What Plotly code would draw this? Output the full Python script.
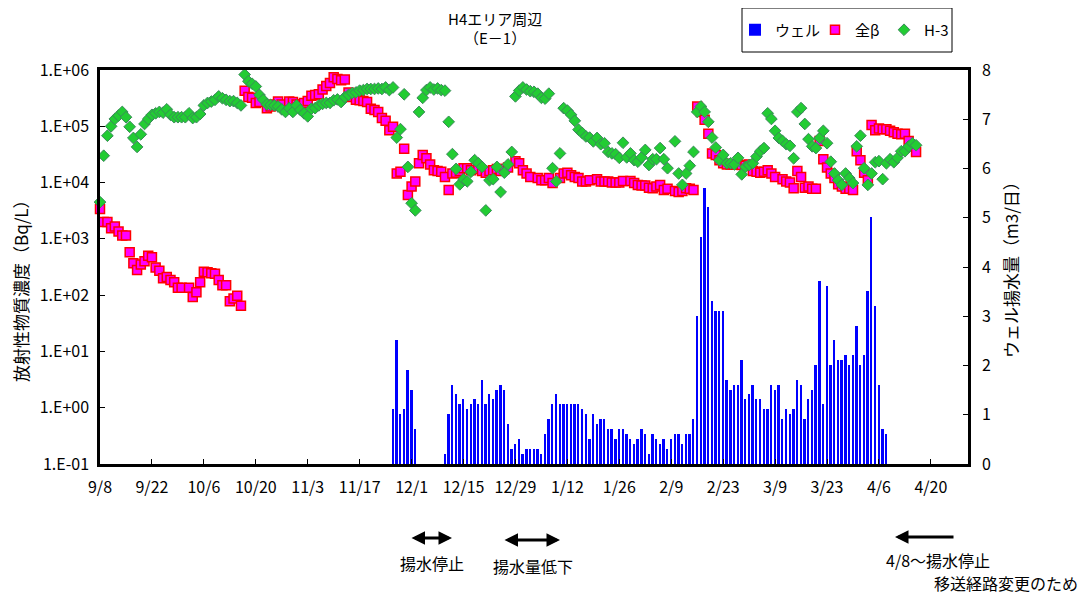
import pandas as pd
import plotly.graph_objects as go

BASE = pd.Timestamp("2013-09-08")

# ---- H-3 (Bq/L): day offset from 2013-09-08, value ----
h3_days = list(range(0, 154)) + list(range(155, 221))
h3_vals = [
    4.5e3, 3.0e4, 6.8e4, 1.0e5, 1.35e5, 1.55e5, 1.8e5, 1.45e5, 9.8e4, 6.2e4,
    4.3e4, 7.2e4, 1.1e5, 1.35e5, 1.6e5, 1.7e5, 1.8e5, 1.75e5, 2.0e5, 1.6e5,
    1.45e5, 1.45e5, 1.45e5, 1.45e5, 1.7e5, 1.4e5, 1.45e5, 1.65e5, 2.35e5, 2.6e5,
    2.75e5, 2.95e5, 3.4e5, 3.15e5, 2.95e5, 2.8e5, 2.8e5, 2.6e5, 2.35e5, 8.3e5,
    6.3e5, 5.7e5, 5.1e5, 3.6e5, 2.95e5, 2.45e5, 2.4e5, 2.35e5, 2.25e5, 2.0e5,
    1.8e5, 2.1e5, 1.8e5, 2.35e5, 1.95e5, 1.7e5, 1.5e5, 2.05e5, 2.1e5, 2.35e5,
    2.5e5, 2.6e5, 2.6e5, 2.9e5, 3.0e5, 2.7e5, 3.3e5, 3.6e5, 3.9e5, 4.0e5,
    4.3e5, 4.4e5, 4.6e5, 4.6e5, 4.6e5, 4.7e5, 4.6e5, 4.9e5, 4.4e5, 4.9e5,
    6.3e4, 8.9e4, 3.7e5, 1.9e4, 4.3e3, 3.2e3, 1.8e5, 3.2e5, 4.4e5, 4.9e5,
    4.5e5, 4.7e5, 4.4e5, 4.3e5, 1.2e5, 3.2e4, 1.75e4, 9.3e3, 1.15e4, 1.05e4,
    1.55e4, 2.5e4, 2.2e4, 1.9e4, 3.2e3, 1.1e4, 1.15e4, 1.9e4, 6.8e3, 1.5e4,
    2.1e4, 3.5e4, 3.4e5, 4.3e5, 4.9e5, 4.5e5, 4.2e5, 4.1e5, 3.8e5, 3.2e5,
    3.1e5, 3.8e5, 1.8e4, 1.05e4, 3.3e4, 2.1e5, 1.9e5, 1.6e5, 1.25e5, 8.7e4,
    7.6e4, 6.6e4, 6.3e4, 5.4e4, 6.2e4, 4.8e4, 5.0e4, 3.5e4, 3.3e4, 3.2e4,
    2.75e4, 5.1e4, 2.8e4, 3.3e4, 2.5e4, 2.35e4, 2.8e4, 3.8e4, 2.05e4, 2.6e4,
    2.6e4, 4.1e4, 2.6e4, 1.8e4,
    5.4e4, 1.45e4, 9.1e3, 1.45e4, 2.0e4, 3.5e4,
    1.8e5, 2.25e5, 1.8e5, 1.2e5, 6.3e4, 4.2e4, 2.5e4, 3.1e4, 2.2e4, 2.2e4,
    2.1e4, 2.75e4, 1.4e4, 1.9e4, 2.05e4, 2.2e4, 2.9e4, 3.6e4, 4.1e4, 1.7e5,
    1.35e5, 8.3e4, 6.2e4, 5.5e4, 4.8e4, 4.5e4, 2.7e4, 1.8e5, 2.1e5, 1.1e5,
    5.9e4, 4.4e4, 4.1e4, 6.2e4, 8.3e4, 5.0e4, 2.35e4, 1.45e4, 1.1e4, 9.1e3,
    1.45e4, 1.2e4, 9.8e3, 4.4e4, 6.8e4, 1.8e4, 9.1e3, 1.45e4, 2.3e4, 2.4e4,
    1.15e4, 2.2e4, 2.6e4, 2.3e4, 2.75e4, 3.6e4, 3.6e4, 4.4e4, 5.0e4, 4.6e4,
]

# ---- 全β (Bq/L) ----
beta_days = [
    0, 1, 2, 3, 4, 5, 6, 7, 8, 9, 10, 11, 12, 13, 14, 15, 16, 17, 18, 19,
    20, 21, 22, 24, 25, 26, 27, 28, 29, 30, 31, 32, 33, 34, 35, 36, 37, 38,
    39, 40, 41, 42, 43, 45, 46, 47, 48, 49, 51, 52, 53, 54, 55, 56, 57, 58,
    59, 60, 61, 62, 63, 64, 65, 66, 67, 68, 69, 70, 71, 72, 73, 74, 75, 76,
    77, 78, 79, 80, 81, 82, 83, 84, 85, 86, 87, 88, 89, 90, 91, 92, 93, 94,
    95, 96, 97, 98, 99, 100, 102, 103, 104, 105, 106, 107, 108, 109, 110, 112,
    113, 114, 115, 116, 118, 119, 120, 121, 122, 124, 125, 126, 127, 128, 129,
    130, 131, 132, 134, 135, 136, 137, 138, 139, 140, 141, 143, 144, 145, 146,
    147, 148, 149, 150, 151, 152, 153, 155, 156, 157, 158, 159, 160, 161, 162,
    163, 164, 165, 166, 167, 168, 169, 170, 171, 172, 173, 174, 175, 176, 177,
    178, 179, 180, 181, 182, 184, 185, 186, 187, 188, 189, 190, 191, 192, 193,
    194, 195, 196, 197, 198, 199, 200, 201, 202, 203, 204, 205, 206, 207, 208,
    209, 210, 211, 212, 213, 214, 215, 216, 217, 218, 219, 220,
]
beta_vals = [
    3.4e3, 2.0e3, 2.0e3, 1.55e3, 1.65e3, 1.35e3, 1.15e3, 1.15e3, 580, 370, 280,
    350, 400, 500, 470, 310, 270, 200, 210, 185,
    170, 135, 135, 135, 93, 112, 170, 260, 255, 245, 240, 185, 150, 150, 78, 87,
    98, 65,
    4.3e5, 3.3e5, 3.2e5, 2.6e5, 2.7e5, 2.1e5, 2.25e5, 2.45e5, 2.75e5, 2.45e5,
    2.75e5, 2.7e5, 2.45e5, 2.45e5, 2.6e5, 2.8e5, 3.5e5, 3.6e5,
    3.7e5, 4.5e5, 5.2e5, 5.9e5, 7.4e5, 6.9e5, 6.6e5, 6.8e5, 4.0e5, 3.3e5,
    2.95e5, 2.9e5, 2.8e5, 2.7e5, 2.05e5, 1.95e5, 1.8e5, 1.4e5,
    1.25e5, 8.5e4, 9.8e4, 1.45e4, 1.55e4, 4.0e4, 6.0e3, 8.5e3, 1.05e4, 2.2e4,
    3.1e4, 2.7e4, 2.1e4, 1.65e4, 1.6e4, 1.55e4, 1.25e4, 7.4e3,
    1.45e4, 1.5e4, 1.6e4, 1.8e4, 1.8e4, 1.65e4, 1.75e4, 1.6e4, 1.5e4, 1.6e4,
    1.65e4, 1.75e4, 1.6e4, 1.75e4, 1.85e4, 2.4e4,
    2.2e4, 1.65e4, 1.45e4, 1.25e4, 1.2e4, 1.1e4, 1.1e4, 1.2e4, 9.8e3, 1.2e4,
    1.45e4, 1.5e4, 1.35e4, 1.25e4, 1.2e4,
    1.05e4, 1.05e4, 1.1e4, 1.15e4, 1.05e4, 1.05e4, 1.05e4, 1.0e4, 1.0e4,
    1.0e4, 1.07e4, 1.07e4, 9.8e3, 9.1e3, 8.9e3,
    8.9e3, 8.1e3, 7.9e3, 8.5e3, 9.1e3, 7.4e3, 7.8e3, 7.1e3, 6.8e3, 7.1e3,
    7.9e3, 7.8e3, 7.4e3, 2.25e5, 1.8e5,
    1.3e5, 7.4e4, 3.3e4, 3.1e4, 2.5e4, 2.2e4, 2.1e4, 2.1e4, 2.1e4, 2.1e4,
    2.05e4, 2.0e4, 2.1e4, 1.6e4, 1.55e4,
    1.5e4, 1.55e4, 1.65e4, 1.45e4, 1.25e4, 1.15e4, 1.05e4, 1.0e4, 7.9e3,
    1.6e4, 1.25e4, 8.1e3, 8.5e3, 7.8e3, 7.8e3,
    5.5e4, 2.6e4, 1.85e4, 1.45e4, 1.2e4, 9.3e3, 8.5e3, 7.8e3, 7.8e3, 7.4e3,
    3.6e4, 2.5e4, 1.5e4, 1.1e4, 1.05e5,
    8.5e4, 9.1e4, 8.9e4, 8.9e4, 8.3e4, 7.8e4, 7.4e4, 7.2e4, 7.4e4, 5.5e4,
    4.4e4, 3.5e4,
]

# ---- ウェル揚水量 (m3/日), daily ----
well_a_start = "2013-11-26"
well_a = [1.12, 2.52, 1.02, 1.12, 1.91, 1.50, 0.71]
well_b_start = "2013-12-10"
well_b = [
    0.20, 1.02, 1.60, 1.42, 1.22, 1.32, 1.12, 1.22, 1.32, 1.22,
    1.71, 1.22, 1.42, 1.32, 1.50, 1.60, 1.50, 0.81, 0.30, 0.41,
    0.51, 0.20, 0.30, 0.30, 0.30, 0.30, 0.20, 0.61, 0.91, 1.22,
    1.42, 1.22, 1.22, 1.22, 1.22, 1.22, 1.22, 1.12, 1.02, 0.51,
    1.02, 0.81, 0.91, 0.91, 0.71, 0.71, 0.51, 0.71, 0.71, 0.61,
    0.51, 0.41, 0.51, 0.71, 0.61, 0.20, 0.61, 0.51, 0.41, 0.51,
    0.30, 0.51, 0.61, 0.61,
    0.41, 0.61, 0.61, 0.91, 3.00, 4.61, 5.60, 5.22, 3.31, 3.11,
    3.11, 3.11, 1.71, 1.50, 1.60, 1.60, 2.11, 1.32, 1.42, 1.60,
    1.32, 1.32, 1.12, 1.12, 1.60, 1.50, 1.60, 0.91, 1.12, 1.02,
    1.12, 1.71, 1.60, 0.91, 1.32, 1.50, 2.01, 3.72, 1.22, 3.61,
    2.01, 2.52, 2.11, 2.11, 2.21, 2.01, 2.21, 2.80, 2.01, 2.21,
    3.51, 5.01, 3.21, 1.60, 0.71, 0.61,
]

x_tick_labels = ["9/8", "9/22", "10/6", "10/20", "11/3", "11/17", "12/1", "12/15",
                 "12/29", "1/12", "1/26", "2/9", "2/23", "3/9", "3/23", "4/6", "4/20"]
y_left_vals = [0.1, 1, 10, 100, 1e3, 1e4, 1e5, 1e6]
y_left_text = ["1.E-01", "1.E+00", "1.E+01", "1.E+02", "1.E+03", "1.E+04", "1.E+05", "1.E+06"]

FONT = "Noto Sans CJK JP"

h3_dates = BASE + pd.to_timedelta(h3_days, unit="D")
beta_dates = BASE + pd.to_timedelta(beta_days, unit="D")
well_dates = list(pd.date_range(well_a_start, periods=len(well_a), freq="D")) + \
             list(pd.date_range(well_b_start, periods=len(well_b), freq="D"))
well_vals = well_a + well_b
tick_dates = [BASE + pd.Timedelta(days=14 * i) for i in range(len(x_tick_labels))]

fig = go.Figure()
fig.add_trace(go.Bar(
    x=well_dates, y=well_vals, name="ウェル", yaxis="y", legend="legend",
    marker=dict(color="#0000FF", line=dict(width=0)), width=0.5 * 86400000,
))
fig.add_trace(go.Scatter(
    x=beta_dates, y=beta_vals, name="全β", mode="markers", yaxis="y2", cliponaxis=False,
    legend="legend2",
    marker=dict(symbol="square", size=9, color="#FF00FF", line=dict(color="#FF0000", width=1.5)),
))
fig.add_trace(go.Scatter(
    x=h3_dates, y=h3_vals, name="H-3", mode="markers", yaxis="y2", cliponaxis=False,
    legend="legend3",
    marker=dict(symbol="diamond", size=9, color="#22CC33", line=dict(color="#3A8A5A", width=1)),
))

axis_common = dict(showline=True, linecolor="black", linewidth=2.5, showgrid=False,
                   zeroline=False, ticks="inside", ticklen=5, tickcolor="black",
                   automargin=False,
                   tickfont=dict(size=16, color="black", family=FONT))

# The page body has an 8 px margin: the figure is drawn 8 px right/down on screen.
OFF = 8
W, H = 1086 - OFF, 598 - OFF


def legend_at(screen_x):
    return dict(orientation="h", x=(screen_x - OFF) / W, y=1 - (30 - OFF) / H,
                xref="container", yref="container", xanchor="left", yanchor="middle",
                borderwidth=0, bgcolor="rgba(0,0,0,0)",
                font=dict(size=15, family=FONT), itemwidth=30)


fig.update_layout(
    width=W, height=H,
    margin=dict(l=100 - OFF, r=118, t=70 - OFF, b=134, autoexpand=False),
    paper_bgcolor="white", plot_bgcolor="white",
    font=dict(family=FONT, color="black", size=15),
    showlegend=True,
    legend=legend_at(735),
    legend2=legend_at(815),
    legend3=legend_at(884),
    xaxis=dict(type="date", range=[BASE, BASE + pd.Timedelta(days=234)],
               tickvals=tick_dates, ticktext=x_tick_labels, mirror=True,
               ticklabelstandoff=7, **axis_common),
    yaxis=dict(side="right", range=[0, 8], tickvals=list(range(9)),
               ticklabelstandoff=8, **axis_common),
    yaxis2=dict(overlaying="y", side="left", type="log", range=[-1, 6],
                tickvals=y_left_vals, ticktext=y_left_text, ticklabelstandoff=5,
                **axis_common),
    bargap=0,
)


def px(xp):
    """screen x (reference picture) -> paper fraction"""
    return (xp - 100) / 868


def py(yp):
    """screen y (reference picture) -> paper fraction"""
    return (464 - yp) / 394


shapes = [dict(type="rect", xref="paper", yref="paper", x0=px(742), x1=px(952),
               y0=py(52), y1=py(8), line=dict(color="black", width=1),
               fillcolor="white", layer="below")]
fig.update_layout(shapes=shapes)


def label(text, x, y, size, angle=0):
    return dict(text=text, x=px(x), y=py(y), xref="paper", yref="paper",
                xanchor="center", yanchor="middle", showarrow=False,
                textangle=angle, font=dict(size=size))


ann = [
    label("H4エリア周辺", 495, 18, 15),
    label("（E－1）", 495, 38, 15),
    label("放射性物質濃度（Bq/L）", 20, 287, 17, -90),
    label("ウェル揚水量（m3/日）", 1010, 266, 17, -90),
    label("揚水停止", 432, 563, 16),
    label("揚水量低下", 533, 566, 16),
    label("4/8～揚水停止", 938, 560, 16),
    label("移送経路変更のため", 1006, 583, 16),
]

arrow_style = dict(showarrow=True, arrowcolor="black", arrowwidth=3, arrowhead=2,
                   arrowsize=0.9, xref="paper", yref="paper", text="", ay=0,
                   standoff=0, startstandoff=0)
ann.append(dict(x=px(452), y=py(538), ax=-42, arrowside="end+start", **arrow_style))
ann.append(dict(x=px(560), y=py(540), ax=-57, arrowside="end+start", **arrow_style))
ann.append(dict(x=px(895), y=py(537), ax=60, arrowside="end", **arrow_style))
fig.update_layout(annotations=ann)

fig.write_html("out.html")
